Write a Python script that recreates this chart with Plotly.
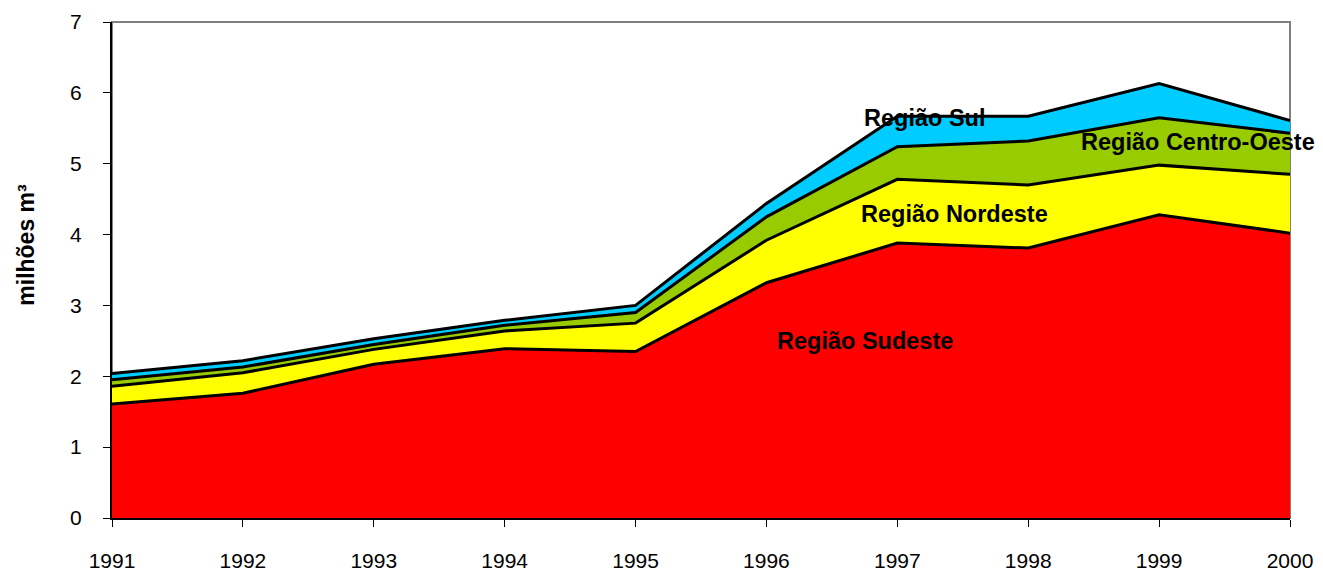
import plotly.graph_objects as go

years = [1991, 1992, 1993, 1994, 1995, 1996, 1997, 1998, 1999, 2000]
sudeste = [1.61, 1.76, 2.17, 2.39, 2.35, 3.32, 3.88, 3.81, 4.28, 4.02]
nordeste = [0.25, 0.29, 0.21, 0.25, 0.40, 0.60, 0.90, 0.89, 0.70, 0.83]
centro_oeste = [0.09, 0.08, 0.07, 0.08, 0.15, 0.33, 0.46, 0.62, 0.67, 0.58]
sul = [0.09, 0.09, 0.08, 0.07, 0.10, 0.19, 0.43, 0.35, 0.48, 0.18]

series = [
    ("Região Sudeste", sudeste, "#FF0000"),
    ("Região Nordeste", nordeste, "#FFFF00"),
    ("Região Centro-Oeste", centro_oeste, "#99CC00"),
    ("Região Sul", sul, "#00CCFF"),
]

labels = [
    ("Região Sul", 1997.21, 5.645),
    ("Região Centro-Oeste", 1999.30, 5.31),
    ("Região Nordeste", 1997.44, 4.29),
    ("Região Sudeste", 1996.75, 2.50),
]

FONT = "Liberation Sans, Arial, sans-serif"

fig = go.Figure()
for name, vals, col in series:
    fig.add_trace(go.Scatter(
        x=years, y=vals, name=name, mode="lines", stackgroup="one",
        fillcolor=col, line=dict(color="black", width=3),
    ))

for text, x, y in labels:
    fig.add_annotation(x=x, y=y, text=f"<b>{text}</b>", showarrow=False,
                       font=dict(family=FONT, size=23.5, color="black"))

# y-axis title as rotated annotation
fig.add_annotation(xref="paper", yref="paper", x=-0.073, y=0.551,
                   text="<b>milhões m³</b>", textangle=-90, showarrow=False,
                   xanchor="center", yanchor="middle",
                   font=dict(family=FONT, size=23, color="black"))

fig.add_shape(type="rect", xref="paper", yref="paper", x0=0, x1=1, y0=0, y1=1,
              line=dict(color="#808080", width=2), layer="below")

fig.update_layout(
    width=1315, height=567,
    margin=dict(l=104, r=33, t=14, b=57),
    paper_bgcolor="white", plot_bgcolor="white",
    showlegend=False,
    font=dict(family=FONT, size=21, color="black"),
    xaxis=dict(range=[1991, 2000], tickmode="array", tickvals=years,
               ticktext=[str(y) for y in years], showgrid=False, zeroline=False,
               showline=True, linecolor="black", linewidth=2,
               ticks="outside", ticklen=7, tickcolor="black",
               ticklabelstandoff=16, automargin=False),
    yaxis=dict(range=[0, 7], dtick=1, showgrid=False, zeroline=False,
               showline=True, linecolor="black", linewidth=2,
               ticks="outside", ticklen=7, tickcolor="black",
               ticklabelstandoff=17, automargin=False),
)

fig.write_html("out.html")
